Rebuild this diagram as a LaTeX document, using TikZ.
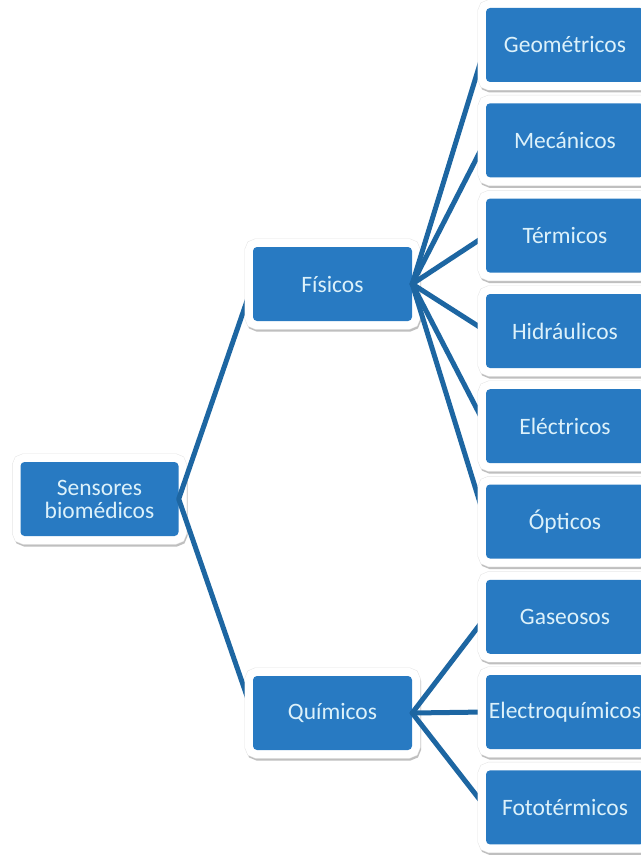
\documentclass[tikz,border=0pt]{standalone}
\usepackage{fontspec}
\setmainfont{Carlito}
\usetikzlibrary{calc}

\definecolor{boxblue}{RGB}{40,122,194}
\definecolor{linkblue}{RGB}{29,102,162}
\definecolor{boxtext}{RGB}{220,241,250}

% drawing order: page, root box, its links, middle boxes, their links, leaves
\pgfdeclarelayer{page}
\pgfdeclarelayer{base}
\pgfdeclarelayer{links1}
\pgfdeclarelayer{mid}
\pgfdeclarelayer{links2}
\pgfsetlayers{page,base,links1,mid,links2,main}

\tikzset{
  item/.style={
    minimum width=158pt, minimum height=74pt, inner sep=0pt,
    rounded corners=4pt, fill=boxblue, text=boxtext, align=center,
    font=\fontsize{23.5}{23}\selectfont,
    preaction={draw=black!25, line width=16pt,
               transform canvas={shift={(1pt,-2.5pt)}}},
    preaction={draw=black!10, line width=17pt},
    preaction={draw=white, line width=16pt}},
  link/.style={draw=linkblue, line width=5pt, line cap=round, line join=round}
}

\begin{document}
\begin{tikzpicture}[x=1pt, y=-1pt]
  \begin{pgfonlayer}{page}
    \fill[white] (0,0) rectangle (640,856);
  \end{pgfonlayer}
  \useasboundingbox (0,0) rectangle (640,856);

  \begin{pgfonlayer}{base}
    \node[item] (root) at (99.5,499) {Sensores\\biomédicos};
  \end{pgfonlayer}

  \begin{pgfonlayer}{mid}
    \node[item, minimum width=159pt] (fis) at (332.5,284) {Físicos};
    \node[item, minimum width=159pt] (qui) at (332.5,713) {Químicos};
  \end{pgfonlayer}

  % leaf column
  \node[item] (geo) at (565,45)    {Geométricos};
  \node[item] (mec) at (565,140.3) {Mecánicos};
  \node[item] (ter) at (565,235.6) {Térmicos};
  \node[item] (hid) at (565,331)   {Hidráulicos};
  \node[item] (ele) at (565,426.2) {Eléctricos};
  \node[item] (opt) at (565,521.5) {Ópticos};
  \node[item] (gas) at (565,616.8) {Gaseosos};
  \node[item] (elq) at (565,712)   {Electroquímicos};
  \node[item] (fot) at (565,807.4) {Fototérmicos};

  \begin{pgfonlayer}{links1}
    \draw[link] (root.east) -- (fis.west)
                (root.east) -- (qui.west);
  \end{pgfonlayer}

  \begin{pgfonlayer}{links2}
    \foreach \leaf in {geo,mec,ter,hid,ele,opt}
      \draw[link] (fis.east) -- (\leaf.west);
    \foreach \leaf in {gas,elq,fot}
      \draw[link] (qui.east) -- (\leaf.west);
  \end{pgfonlayer}
\end{tikzpicture}
\end{document}
